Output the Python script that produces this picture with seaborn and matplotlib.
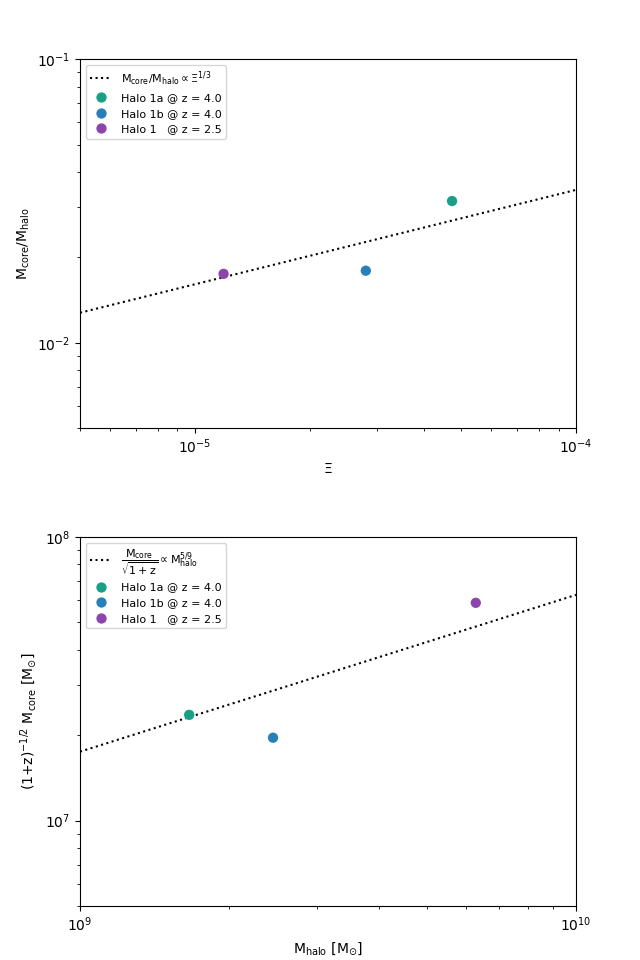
import matplotlib
matplotlib.use("Agg")
import matplotlib.pyplot as plt
import seaborn as sns
import pandas as pd

# --- data ---
halo_labels = ["Halo 1a @ z = 4.0", "Halo 1b @ z = 4.0", "Halo 1   @ z = 2.5"]
halo_colors = ["#17a085", "#2980b9", "#8e44ad"]

xi_values = [4.73e-5, 2.81e-5, 1.19e-5]
core_frac = [0.0316, 0.01795, 0.0175]

mhalo_values = [1.66e9, 2.45e9, 6.28e9]
mcore_scaled = [2.36e7, 1.96e7, 5.86e7]

# fitted power-law lines (endpoints)
fit1_x = [5e-6, 1e-4]
fit1_y = [0.01276, 0.0346]
fit2_x = [1e9, 1e10]
fit2_y = [1.75e7, 6.25e7]

df1 = pd.DataFrame({"x": xi_values, "y": core_frac, "label": halo_labels})
df2 = pd.DataFrame({"x": mhalo_values, "y": mcore_scaled, "label": halo_labels})
palette = dict(zip(halo_labels, halo_colors))

fig = plt.figure(figsize=(6.4, 9.6), dpi=100)
ax1 = fig.add_axes([0.125, 0.554, 0.775, 0.3844])
ax2 = fig.add_axes([0.125, 0.05625, 0.775, 0.3844])

# top panel
ax1.plot(fit1_x, fit1_y, ls=":", color="black",
         label=r"M$_{\rm core}$/M$_{\rm halo}$$\propto\Xi^{1/3}$")
sns.scatterplot(data=df1, x="x", y="y", hue="label", palette=palette,
                hue_order=halo_labels, s=55, linewidth=0, ax=ax1, zorder=3)
ax1.set_xscale("log")
ax1.set_yscale("log")
ax1.set_xlim(5e-6, 1e-4)
ax1.set_ylim(5e-3, 1e-1)
ax1.set_xlabel(r"$\Xi$")
ax1.set_ylabel(r"M$_{\rm core}$/M$_{\rm halo}$")
ax1.legend(loc="upper left", fontsize=8)

# bottom panel
ax2.plot(fit2_x, fit2_y, ls=":", color="black",
         label=r"$\dfrac{\rm M_{core}}{\sqrt{1+z}}\propto \rm M_{halo}^{5/9}$")
sns.scatterplot(data=df2, x="x", y="y", hue="label", palette=palette,
                hue_order=halo_labels, s=55, linewidth=0, ax=ax2, zorder=3)
ax2.set_xscale("log")
ax2.set_yscale("log")
ax2.set_xlim(1e9, 1e10)
ax2.set_ylim(5e6, 1e8)
ax2.set_xlabel(r"M$_{\rm halo}$ [M$_{\odot}$]")
ax2.set_ylabel(r"(1+z)$^{-1/2}$ M$_{\rm core}$ [M$_{\odot}$]")
ax2.legend(loc="upper left", fontsize=8)

fig.savefig("out.png", dpi=100)
